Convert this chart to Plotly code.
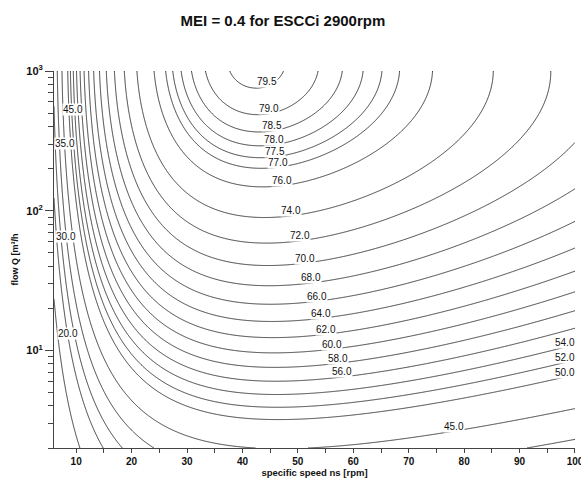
import numpy as np
import plotly.graph_objects as go

# --- Minimum efficiency surface (EU 547/2012 form), ESCCi 2900 rpm, MEI = 0.4 ---
COEF_X = 88.59
COEF_Y = 13.46
COEF_XX = -11.48
COEF_YY = -0.85
COEF_XY = -0.38
C_PUMP = 133.7

NS_RANGE = [6, 100]        # specific speed ns [rpm]
Q_RANGE = [2, 1000]        # flow Q [m3/h]

LEVELS = [20, 30, 35, 40, 45, 50, 52, 54, 56, 58, 60, 62, 64, 66, 68, 70,
          72, 74, 76, 77, 77.5, 78, 78.5, 79, 79.5]

X_TICKS = [10, 20, 30, 40, 50, 60, 70, 80, 90, 100]
X_TICK_LABELS = ["10", "20", "30", "40", "50", "60", "70", "80", "90", "100"]
X_MINOR = [15, 25, 35, 45, 55, 65, 75, 85, 95]
Y_TICKS = [10, 100, 1000]
Y_TICK_LABELS = ["10<sup>1</sup>", "10<sup>2</sup>", "10<sup>3</sup>"]
Y_MINOR = [2, 3, 4, 5, 6, 7, 8, 9, 20, 30, 40, 50, 60, 70, 80, 90,
           200, 300, 400, 500, 600, 700, 800, 900]

# labelled contour levels (centre-placed along the curves)
LABELS_MID = [79.5, 79.0, 78.5, 78.0, 77.5, 77.0, 76.0, 74.0, 72.0, 70.0, 68.0,
              66.0, 64.0, 62.0, 60.0, 58.0, 56.0, 54.0, 52.0, 50.0, 45.0]
# labelled contour levels on the steep left flank
LABELS_LEFT = [45.0, 35.0, 30.0, 20.0]

# label placement (layout only)
MID_LABEL_NS = [44.5, 44.8, 45.4, 45.7, 45.8, 46.4, 47.1, 48.7, 50.4, 51.3, 52.45,
                53.4, 54.15, 55.05, 56.15, 57.15, 58.05, 98.2, 98.2, 98.2, 78.1]
LEFT_LABEL_Q = [530, 303, 65.5, 13.1]


def eta(ns, q):
    x = np.log(ns)
    y = np.log(q)
    return (COEF_X * x + COEF_Y * y + COEF_XX * x * x + COEF_YY * y * y
            + COEF_XY * x * y - C_PUMP)


def solve_q(ns, level):
    lo, hi = np.log(1.0), np.log(1100.0)
    for _ in range(80):
        mid = 0.5 * (lo + hi)
        if eta(ns, np.exp(mid)) < level:
            lo = mid
        else:
            hi = mid
    return float(np.exp(0.5 * (lo + hi)))


def solve_ns(q, level):
    lo, hi = np.log(4.0), np.log(40.0)
    for _ in range(80):
        mid = 0.5 * (lo + hi)
        if eta(np.exp(mid), q) < level:
            lo = mid
        else:
            hi = mid
    return float(np.exp(0.5 * (lo + hi)))


ns_grid = np.linspace(NS_RANGE[0], NS_RANGE[1], 260)
q_grid = np.geomspace(Q_RANGE[0], Q_RANGE[1], 260)
NSg, Qg = np.meshgrid(ns_grid, q_grid)
Z = np.round(eta(NSg, Qg), 3)

# group levels into runs of equal spacing so each run is one contour trace
groups = []
for lv in LEVELS:
    if not groups:
        groups.append([lv])
    else:
        g = groups[-1]
        if len(g) == 1 or abs((lv - g[-1]) - (g[1] - g[0])) < 1e-9:
            g.append(lv)
        else:
            groups.append([lv])

LINE_COLOR = "#111111"
fig = go.Figure()
for g in groups:
    step = (g[1] - g[0]) if len(g) > 1 else 1.0
    fig.add_trace(go.Contour(
        x=ns_grid, y=q_grid, z=Z,
        autocontour=False,
        contours=dict(start=g[0], end=g[-1], size=step, coloring="none"),
        line=dict(color=LINE_COLOR, width=0.8, smoothing=0),
        showscale=False, hoverinfo="skip",
    ))

FAMILY = "Liberation Sans, Arial, sans-serif"
LABEL_FONT = dict(family=FAMILY, size=10, color="#111")
annotations = []
for lv, ns in zip(LABELS_MID, MID_LABEL_NS):
    q = solve_q(ns, lv)
    annotations.append(dict(
        x=ns, y=np.log10(q), xref="x", yref="y", text=f"{lv:.1f}",
        showarrow=False, xanchor="center", yanchor="middle", yshift=5,
        font=LABEL_FONT, bgcolor="white", borderpad=0,
    ))
for lv, q in zip(LABELS_LEFT, LEFT_LABEL_Q):
    ns = solve_ns(q, lv)
    annotations.append(dict(
        x=ns, y=np.log10(q), xref="x", yref="y", text=f"{lv:.1f}",
        showarrow=False, xanchor="left", yanchor="middle", xshift=-1,
        font=LABEL_FONT, bgcolor="white", borderpad=0,
    ))

AX_FONT = dict(family=FAMILY, size=10, color="#111", weight="bold")

fig.update_layout(
    width=581, height=482,
    margin=dict(l=54, r=6, t=71, b=34, autoexpand=False),
    paper_bgcolor="white", plot_bgcolor="white",
    showlegend=False,
    title=dict(text="MEI = 0.4 for ESCCi 2900rpm", x=0.487, xanchor="center",
               y=1 - 21 / 482, yanchor="middle", yref="container",
               font=dict(family=FAMILY, size=15, color="#111", weight="bold")),
    annotations=annotations,
    xaxis=dict(
        range=[NS_RANGE[0], NS_RANGE[1] + 0.001], tickmode="array",
        tickvals=X_TICKS, ticktext=X_TICK_LABELS, ticklabeloverflow="allow",
        ticks="outside", ticklen=4, tickwidth=1, tickcolor="#444",
        minor=dict(tickmode="array", tickvals=X_MINOR, ticks="outside", ticklen=4,
                   tickwidth=1, tickcolor="#444", showgrid=False),
        showline=True, linecolor="#444", linewidth=1, mirror=False,
        showgrid=False, zeroline=False, tickfont=AX_FONT, automargin=False,
        title=dict(text="specific speed ns [rpm]", font=dict(family=FAMILY, size=9.5,
                                                             color="#111", weight="bold"),
                   standoff=2),
    ),
    yaxis=dict(
        type="log", range=[np.log10(Q_RANGE[0]), np.log10(Q_RANGE[1])],
        tickmode="array", tickvals=Y_TICKS, ticktext=Y_TICK_LABELS,
        ticks="outside", ticklen=8, tickwidth=1, tickcolor="#444",
        minor=dict(tickmode="array", tickvals=Y_MINOR, ticks="outside", ticklen=5,
                   tickwidth=1, tickcolor="#444", showgrid=False),
        showline=True, linecolor="#444", linewidth=1, mirror=False,
        showgrid=False, zeroline=False, automargin=False,
        tickfont=dict(family=FAMILY, size=11, color="#111", weight="bold"),
        title=dict(text="flow Q [m³/h", font=dict(family=FAMILY, size=9, color="#111",
                                                  weight="bold"),
                   standoff=6),
    ),
)

fig.write_html("out.html", config={"displayModeBar": False},
               post_script="document.body.style.margin='0';document.body.style.padding='0';")
